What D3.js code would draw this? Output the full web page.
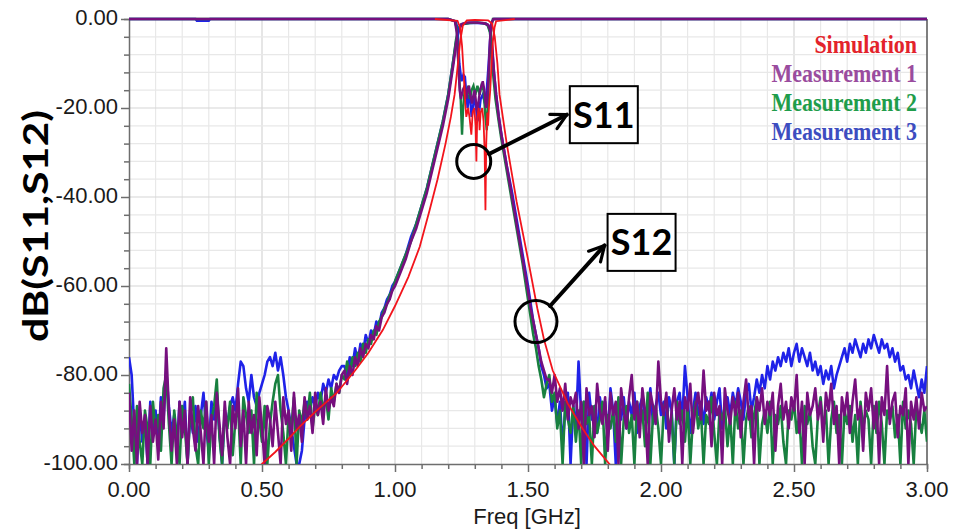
<!DOCTYPE html>
<html lang="en">
<head>
  <meta charset="UTF-8">
  <title>dB(S11,S12)</title>
  <script src="https://cdnjs.cloudflare.com/ajax/libs/d3/7.8.5/d3.min.js"></script>
  <style>
    body { margin: 0; background: #fff; }
    .tick-label { font-family: 'Liberation Sans', Arial, sans-serif; font-size: 22px; fill: #1a1a1a; }
    .legend { font-family: 'Liberation Serif', 'Times New Roman', serif; font-weight: bold; font-size: 22px; }
    .tag { font-family: Lato, 'Open Sans', sans-serif; font-weight: bold; font-size: 36px; }
  </style>
</head>
<body>
<div id="chart"></div>
<script>
  // axis ticks
  const xTicks = [0, 0.5, 1.0, 1.5, 2.0, 2.5, 3.0];
  const yTicks = [0, -20, -40, -60, -80, -100];

  // legend
  const legendNames = ["Simulation", "Measurement 1", "Measurement 2", "Measurement 3"];

  // simulated S12 (freq GHz, dB)
  const simS12 = [[0.48, -101], [0.5, -100], [0.55, -97.3], [0.6, -94.3], [0.642, -91.6], [0.7, -88.3], [0.78, -84.1],
    [0.85, -79], [0.9, -75], [0.954, -69.9], [1.0, -64.5], [1.05, -58], [1.093, -51.2], [1.13, -43], [1.16, -36],
    [1.19, -28], [1.21, -22], [1.224, -17], [1.235, -11], [1.245, -5], [1.255, -1.5], [1.27, -0.3], [1.3, -0.2],
    [1.35, -0.3], [1.365, -1], [1.375, -4], [1.385, -10], [1.393, -17], [1.42, -28], [1.457, -41], [1.5, -54],
    [1.535, -65], [1.56, -72], [1.593, -79], [1.65, -86.5], [1.705, -92], [1.75, -96], [1.806, -100], [1.83, -102]];

  // simulated S11
  const simS11 = [[1.15, 0], [1.235, -0.4], [1.245, -2], [1.252, -6], [1.258, -12], [1.263, -18], [1.268, -22],
    [1.275, -20], [1.28, -22], [1.287, -26], [1.292, -21], [1.298, -20], [1.303, -24], [1.306, -32], [1.309, -22],
    [1.315, -20], [1.318, -25], [1.322, -21], [1.328, -20], [1.333, -23], [1.337, -30], [1.34, -43], [1.343, -28],
    [1.347, -21], [1.35, -24], [1.353, -20], [1.358, -16], [1.363, -10], [1.368, -5], [1.374, -2], [1.38, -0.5], [1.45, 0]];

  // measured S12 noise floor, swept 0.00..0.80 and 1.58..3.00 GHz in 0.01 GHz steps
  const sweepStep = 0.01, leftStart = 0, rightStart = 1.58;

  const m1NoiseLeft = [-84, -97, -88, -100, -86, -93, -89, -100, -87, -95,
    -90, -99, -86, -92, -74, -88, -97, -90, -100, -86,
    -94, -88, -100, -85, -92, -97, -87, -93, -100, -86,
    -95, -89, -100, -84, -91, -98, -86, -94, -100, -87,
    -92, -83, -96, -88, -100, -86, -93, -89, -98, -85,
    -92, -100, -87, -90, -96, -86, -93, -100, -85, -91,
    -88, -97, -84, -92, -89, -95, -85, -90, -87, -93,
    -84, -89, -86, -91, -83, -88, -85, -87, -82, -84, -80];
  const m2NoiseLeft = [-82, -90, -100, -87, -95, -100, -88, -92, -100, -86,
    -93, -89, -97, -83, -80, -91, -100, -88, -94, -100,
    -87, -92, -100, -89, -85, -96, -100, -88, -92, -86,
    -100, -90, -87, -81, -94, -100, -89, -92, -86, -98,
    -90, -87, -100, -85, -89, -93, -88, -100, -84, -90,
    -95, -87, -100, -91, -86, -82, -80, -88, -93, -100,
    -89, -92, -85, -100, -88, -91, -86, -90, -84, -92,
    -87, -89, -84, -88, -85, -90, -83, -86, -82, -84, -80];
  const m3NoiseLeft = [-76, -80, -92, -100, -88, -95, -90, -100, -86, -93,
    -88, -96, -85, -90, -79, -87, -93, -89, -97, -86,
    -91, -86, -100, -88, -93, -87, -95, -89, -84, -92,
    -97, -86, -90, -85, -93, -100, -88, -91, -87, -85,
    -88, -82, -77, -78, -83, -86, -80, -85, -87, -84,
    -82, -80, -77, -76, -78, -75, -79, -76, -80, -85,
    -88, -92, -96, -100, -100, -97, -90, -86, -88, -85,
    -87, -84, -86, -82, -84, -81, -83, -80, -81, -79, -78];

  const m1NoiseRight = [-81, -84, -80, -86, -83, -88, -82, -90, -85, -87,
    -84, -92, -86, -100, -83, -89, -87, -94, -82, -88,
    -91, -85, -97, -84, -89, -86, -100, -83, -88, -92,
    -85, -80, -90, -86, -94, -83, -88, -100, -84, -87,
    -91, -77, -86, -89, -84, -95, -88, -83, -90, -86,
    -100, -85, -88, -82, -93, -87, -84, -90, -79, -88,
    -86, -96, -84, -89, -87, -100, -83, -88, -91, -85,
    -89, -84, -94, -86, -81, -90, -87, -100, -85, -88,
    -83, -91, -86, -89, -84, -97, -87, -82, -90, -86,
    -92, -85, -88, -80, -93, -86, -100, -84, -89, -87,
    -83, -90, -86, -95, -84, -88, -82, -91, -87, -100,
    -85, -89, -84, -93, -86, -81, -90, -87, -97, -84,
    -88, -83, -92, -86, -100, -85, -89, -78, -91, -86,
    -84, -94, -87, -89, -83, -100, -86, -90, -85, -92,
    -84, -88, -87];
  const m2NoiseRight = [-80, -86, -84, -92, -88, -100, -86, -90, -93, -87,
    -95, -88, -100, -86, -91, -89, -100, -87, -93, -90,
    -86, -100, -89, -92, -88, -95, -85, -100, -90, -87,
    -93, -89, -100, -86, -91, -88, -96, -84, -100, -89,
    -87, -92, -100, -88, -85, -93, -89, -100, -86, -91,
    -88, -95, -87, -100, -90, -86, -92, -88, -100, -89,
    -91, -85, -93, -100, -88, -90, -87, -96, -89, -100,
    -86, -92, -88, -100, -90, -87, -94, -89, -85, -100,
    -91, -88, -93, -86, -100, -89, -91, -87, -95, -100,
    -88, -90, -86, -93, -89, -100, -87, -91, -88, -96,
    -100, -89, -85, -92, -88, -100, -90, -86, -93, -89,
    -100, -88, -91, -87, -95, -89, -100, -86, -92, -88,
    -90, -100, -87, -93, -86, -91, -100, -88, -90, -87,
    -94, -89, -100, -86, -92, -88, -91, -100, -87, -90,
    -93, -88, -95];
  const m3NoiseRight = [-82, -88, -85, -91, -86, -96, -88, -84, -100, -87,
    -92, -77, -89, -86, -100, -84, -90, -87, -93, -85,
    -89, -86, -94, -83, -88, -100, -87, -90, -85, -92,
    -86, -89, -84, -93, -87, -85, -90, -88, -83, -91,
    -87, -84, -89, -86, -92, -85, -88, -100, -86, -84,
    -90, -78, -85, -93, -88, -84, -89, -86, -91, -85,
    -88, -84, -90, -86, -83, -92, -87, -85, -89, -84,
    -87, -83, -86, -90, -84, -82, -88, -85, -81, -84,
    -80, -83, -78, -81, -77, -79, -76, -78, -75, -77,
    -74, -78, -75, -73, -77, -74, -76, -78, -75, -79,
    -77, -80, -78, -82, -79, -81, -78, -83, -80, -78,
    -76, -74, -77, -73, -75, -72, -74, -76, -73, -75,
    -72, -74, -71, -73, -75, -72, -74, -73, -76, -74,
    -77, -75, -79, -78, -81, -80, -83, -79, -82, -85,
    -81, -84, -78];

  // measured S12 skirts + passband
  const m1Band = [[0.81, -79], [0.82, -82], [0.83, -78], [0.84, -80], [0.85, -76], [0.86, -78], [0.87, -74], [0.88, -76],
    [0.89, -73], [0.9, -74], [0.91, -71], [0.92, -72], [0.93, -69], [0.94, -70], [0.95, -67], [0.96, -66], [0.97, -64],
    [0.98, -63], [0.99, -61], [1.0, -60], [1.02, -57], [1.04, -54], [1.06, -50], [1.08, -47], [1.1, -43], [1.12, -39],
    [1.14, -34], [1.16, -29], [1.18, -24], [1.2, -18], [1.21, -14], [1.22, -10], [1.23, -5.5], [1.24, -2.5], [1.25, -1.2],
    [1.27, -0.8], [1.3, -0.8], [1.33, -0.9], [1.35, -1.3], [1.358, -2.5], [1.365, -6], [1.372, -12], [1.38, -17],
    [1.39, -22], [1.4, -26], [1.42, -33], [1.44, -40], [1.46, -47], [1.48, -54], [1.5, -61], [1.51, -65], [1.52, -68],
    [1.53, -71], [1.54, -74], [1.55, -77], [1.56, -79], [1.57, -81]];
  const m2Band = [[0.81, -81], [0.82, -77], [0.83, -80], [0.84, -76], [0.85, -78], [0.86, -75], [0.87, -77], [0.88, -73],
    [0.89, -75], [0.9, -72], [0.91, -73], [0.92, -70], [0.93, -71], [0.94, -68], [0.95, -67], [0.96, -65], [0.97, -64],
    [0.98, -62], [0.99, -61], [1.0, -59], [1.02, -56], [1.04, -53], [1.06, -50], [1.08, -46], [1.1, -42], [1.12, -38],
    [1.14, -33], [1.16, -28], [1.18, -23], [1.2, -17], [1.21, -13], [1.22, -9], [1.23, -4.5], [1.24, -2], [1.25, -1.2],
    [1.28, -0.9], [1.31, -0.8], [1.34, -1], [1.35, -1.6], [1.357, -3], [1.364, -7], [1.37, -13], [1.378, -18],
    [1.39, -23], [1.4, -27], [1.42, -34], [1.44, -41], [1.46, -48], [1.48, -55], [1.5, -63], [1.51, -67], [1.52, -71],
    [1.53, -74], [1.54, -78], [1.55, -81], [1.56, -85], [1.57, -82]];
  const m3Band = [[0.81, -78], [0.82, -80], [0.83, -76], [0.84, -78], [0.85, -74], [0.86, -77], [0.87, -73], [0.88, -75],
    [0.89, -71], [0.9, -73], [0.91, -70], [0.92, -71], [0.93, -68], [0.94, -69], [0.95, -66], [0.96, -65], [0.97, -63],
    [0.98, -62], [0.99, -60], [1.0, -59], [1.02, -56], [1.04, -53], [1.06, -49], [1.08, -46], [1.1, -42], [1.12, -38],
    [1.14, -33], [1.16, -28], [1.18, -23], [1.2, -17], [1.21, -13], [1.22, -9], [1.23, -5], [1.24, -2.2], [1.25, -1.2],
    [1.28, -0.9], [1.31, -0.9], [1.34, -1], [1.35, -1.4], [1.358, -2.8], [1.365, -6.5], [1.372, -12], [1.38, -17],
    [1.39, -22], [1.4, -26], [1.42, -33], [1.44, -39], [1.46, -46], [1.48, -53], [1.5, -60], [1.51, -64], [1.52, -68],
    [1.53, -71], [1.54, -74], [1.55, -78], [1.56, -80], [1.57, -83]];

  // measured S11
  const m1S11 = [[0, 0], [1.2, 0], [1.225, -0.5], [1.232, -3], [1.238, -10], [1.243, -16], [1.248, -18], [1.255, -16],
    [1.262, -15], [1.268, -18], [1.273, -16], [1.278, -15], [1.283, -17], [1.29, -19], [1.295, -17], [1.3, -16],
    [1.305, -19], [1.31, -21], [1.315, -18], [1.32, -16], [1.325, -15], [1.33, -14], [1.336, -16], [1.342, -20],
    [1.347, -18], [1.352, -12], [1.357, -5], [1.362, -1], [1.37, 0], [3, 0]];
  const m2S11 = [[0, 0], [1.2, 0], [1.225, -0.5], [1.232, -2], [1.24, -12], [1.247, -18], [1.252, -26], [1.256, -20],
    [1.262, -16], [1.27, -17], [1.276, -15], [1.282, -18], [1.288, -16], [1.295, -15], [1.302, -17], [1.31, -15],
    [1.318, -17], [1.325, -15], [1.333, -16], [1.34, -22], [1.345, -25], [1.35, -18], [1.356, -8], [1.362, -2],
    [1.368, 0], [3, 0]];
  const m3S11 = [[0, 0], [0.25, 0], [0.255, -0.4], [0.3, -0.4], [0.305, 0], [1.2, 0], [1.228, -0.5], [1.235, -2],
    [1.242, -10], [1.25, -14], [1.257, -12.5], [1.263, -13], [1.268, -17], [1.273, -20], [1.278, -17], [1.283, -18],
    [1.288, -22], [1.293, -20], [1.298, -17], [1.303, -19], [1.31, -23], [1.316, -21], [1.322, -18], [1.33, -17],
    [1.338, -19], [1.345, -16], [1.352, -10], [1.358, -4], [1.365, -0.5], [1.372, 0], [3, 0]];

  // annotations: circle centre (GHz, dB), label box centre (GHz, dB)
  const tags = [
    { name: "S11", circle: [1.296, -32], r: 17, box: [1.785, -21.5] },
    { name: "S12", circle: [1.53, -68], r: 21, box: [1.927, -50.2] }
  ];

  var W = 953, H = 531;
  var x = d3.scaleLinear().domain([0, 3]).range([129, 927]);
  var y = d3.scaleLinear().domain([-100, 0]).range([464, 19]);

  var svg = d3.select("#chart").append("svg")
    .attr("width", W).attr("height", H);

  // grid
  var grid = svg.append("g");
  d3.range(1, 30).forEach(function (i) {
    grid.append("line")
      .attr("x1", x(i / 10)).attr("x2", x(i / 10))
      .attr("y1", y(-100)).attr("y2", y(0))
      .attr("stroke", i % 5 === 0 ? "#d6d6d6" : "#e8e8e8").attr("stroke-width", 1.2);
  });
  d3.range(1, 25).forEach(function (i) {
    grid.append("line")
      .attr("x1", x(0)).attr("x2", x(3))
      .attr("y1", y(-i * 4)).attr("y2", y(-i * 4))
      .attr("stroke", i % 5 === 0 ? "#d6d6d6" : "#e8e8e8").attr("stroke-width", 1.2);
  });

  // axes
  var yAxis = d3.axisLeft(y).tickValues(d3.range(0, 101, 4).map(function (d) { return -d; }))
    .tickSize(5).tickFormat("");
  var gy = svg.append("g").attr("transform", "translate(" + x(0) + ",0)").call(yAxis);
  var xAxis = d3.axisBottom(x).tickValues(d3.range(0, 31).map(function (d) { return d / 10; }))
    .tickSize(5).tickFormat("");
  var gx = svg.append("g").attr("transform", "translate(0," + y(-100) + ")").call(xAxis);
  [gx, gy].forEach(function (g) {
    g.selectAll("path,line").attr("stroke", "#6e6e6e").attr("stroke-width", 1.5);
  });
  gy.selectAll(".tick").filter(function (d) { return d % 20 === 0; }).select("line").attr("x2", -8);
  gx.selectAll(".tick").filter(function (d) { return Math.round(d * 10) % 5 === 0; }).select("line").attr("y2", 8);

  // right border
  svg.append("line").attr("x1", x(3)).attr("x2", x(3)).attr("y1", y(0)).attr("y2", y(-100))
    .attr("stroke", "#555").attr("stroke-width", 1.5);

  svg.selectAll(".ylab").data(yTicks).enter().append("text")
    .attr("class", "tick-label")
    .attr("x", 118).attr("y", function (d) { return y(d) + 6; })
    .attr("text-anchor", "end")
    .text(function (d) { return d.toFixed(2); });
  svg.selectAll(".xlab").data(xTicks).enter().append("text")
    .attr("class", "tick-label")
    .attr("x", function (d) { return x(d); }).attr("y", 497)
    .attr("text-anchor", "middle")
    .text(function (d) { return d.toFixed(2); });

  svg.append("text").attr("class", "tick-label")
    .attr("x", 527).attr("y", 524).attr("text-anchor", "middle").text("Freq [GHz]");

  svg.append("text")
    .attr("transform", "translate(48,226) rotate(-90)")
    .attr("text-anchor", "middle")
    .attr("textLength", 232).attr("lengthAdjust", "spacingAndGlyphs")
    .style("font-family", "Lato, 'Open Sans', sans-serif").style("font-weight", "bold").style("font-size", "34px")
    .text("dB(S11,S12)");

  // traces
  svg.append("clipPath").attr("id", "plot-clip").append("rect")
    .attr("x", x(0)).attr("y", y(0) - 3).attr("width", x(3) - x(0)).attr("height", y(-100) - y(0) + 3);
  var plot = svg.append("g").attr("clip-path", "url(#plot-clip)");
  var line = d3.line().x(function (d) { return x(d[0]); }).y(function (d) { return y(d[1]); });

  function sweep(vals, start) {
    return vals.map(function (v, i) { return [+(start + i * sweepStep).toFixed(2), v]; });
  }

  var measured = [
    { s12: sweep(m3NoiseLeft, leftStart).concat(m3Band, sweep(m3NoiseRight, rightStart)), s11: m3S11, color: "#1f22e8" },
    { s12: sweep(m2NoiseLeft, leftStart).concat(m2Band, sweep(m2NoiseRight, rightStart)), s11: m2S11, color: "#18803f" },
    { s12: sweep(m1NoiseLeft, leftStart).concat(m1Band, sweep(m1NoiseRight, rightStart)), s11: m1S11, color: "#760f7e" }
  ];
  measured.forEach(function (m) {
    plot.append("path").datum(m.s12).attr("d", line)
      .attr("fill", "none").attr("stroke", m.color).attr("stroke-width", 2.6).attr("stroke-linejoin", "round");
  });
  measured.forEach(function (m) {
    plot.append("path").datum(m.s11).attr("d", line)
      .attr("fill", "none").attr("stroke", m.color).attr("stroke-width", 2.4);
  });
  [simS12, simS11].forEach(function (s) {
    plot.append("path").datum(s).attr("d", line)
      .attr("fill", "none").attr("stroke", "#f2141c").attr("stroke-width", 1.8);
  });

  // legend, a little taller than the font like the source
  var legendColors = ["#e3232b", "#9a4c9e", "#1f9d4b", "#3d4dc0"];
  svg.selectAll(".legend").data(legendNames).enter().append("text")
    .attr("class", "legend")
    .attr("transform", function (d, i) { return "translate(917," + (53 + i * 29) + ") scale(1,1.15)"; })
    .attr("text-anchor", "end")
    .attr("fill", function (d, i) { return legendColors[i]; })
    .text(function (d) { return d; });

  // circles, arrows and boxed labels
  svg.append("defs").append("marker")
    .attr("id", "head").attr("viewBox", "0 0 10 10").attr("refX", 8.5).attr("refY", 5)
    .attr("markerWidth", 5).attr("markerHeight", 5).attr("orient", "auto").attr("markerUnits", "strokeWidth")
    .append("path").attr("d", "M1,1 L8.5,5 L1,9").attr("fill", "none").attr("stroke", "#000")
    .attr("stroke-width", 1.6).attr("stroke-linecap", "round").attr("stroke-linejoin", "round");

  var bw = 68, bh = 57;
  tags.forEach(function (t) {
    var cx = x(t.circle[0]), cy = y(t.circle[1]);
    var bx = x(t.box[0]), by = y(t.box[1]);
    svg.append("circle").attr("cx", cx).attr("cy", cy).attr("r", t.r)
      .attr("fill", "none").attr("stroke", "#000").attr("stroke-width", 3);
    var ang = Math.atan2(by - cy, (bx - bw / 2) - cx);
    var sx = cx + t.r * Math.cos(ang), sy = cy + t.r * Math.sin(ang);
    svg.append("line")
      .attr("x1", sx).attr("y1", sy).attr("x2", bx - bw / 2 - 3).attr("y2", by + (t.name === "S11" ? 0 : 3))
      .attr("stroke", "#000").attr("stroke-width", 4).attr("stroke-linecap", "round")
      .attr("marker-end", "url(#head)");
    svg.append("rect").attr("x", bx - bw / 2).attr("y", by - bh / 2).attr("width", bw).attr("height", bh)
      .attr("fill", "#fff").attr("stroke", "#000").attr("stroke-width", 2);
    svg.append("text").attr("class", "tag")
      .attr("x", bx).attr("y", by + 13).attr("text-anchor", "middle").text(t.name);
  });
</script>
</body>
</html>
